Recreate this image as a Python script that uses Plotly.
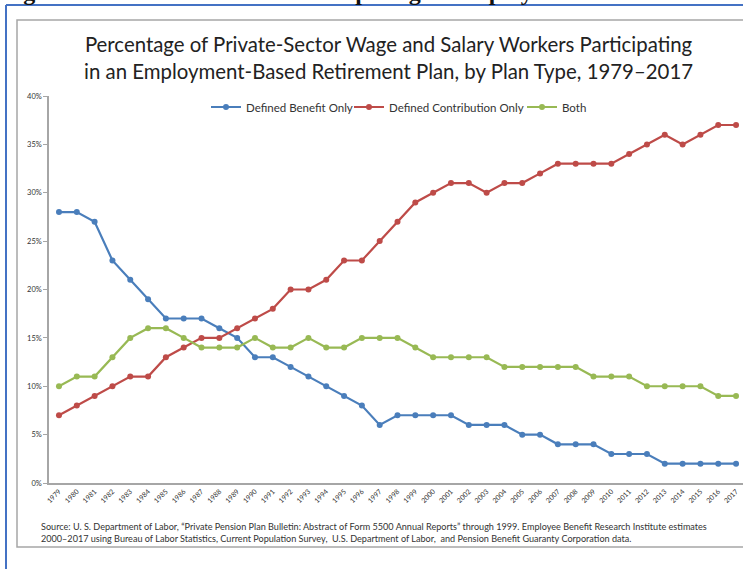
import plotly.graph_objects as go

years = list(range(1979, 2018))
db_only = [28, 28, 27, 23, 21, 19, 17, 17, 17, 16, 15, 13, 13, 12, 11, 10, 9, 8, 6,
           7, 7, 7, 7, 6, 6, 6, 5, 5, 4, 4, 4, 3, 3, 3, 2, 2, 2, 2, 2]
dc_only = [7, 8, 9, 10, 11, 11, 13, 14, 15, 15, 16, 17, 18, 20, 20, 21, 23, 23, 25,
           27, 29, 30, 31, 31, 30, 31, 31, 32, 33, 33, 33, 33, 34, 35, 36, 35, 36, 37, 37]
both = [10, 11, 11, 13, 15, 16, 16, 15, 14, 14, 14, 15, 14, 14, 15, 14, 14, 15, 15,
        15, 14, 13, 13, 13, 13, 12, 12, 12, 12, 12, 11, 11, 11, 10, 10, 10, 10, 9, 9]
y_ticks = [0, 5, 10, 15, 20, 25, 30, 35, 40]
y_tick_labels = [f"{v}%" for v in y_ticks]

series = [
    ("Defined Benefit Only", db_only, "#4A7EBB", "legend"),
    ("Defined Contribution Only", dc_only, "#BE4B48", "legend2"),
    ("Both", both, "#98B954", "legend3"),
]

fig = go.Figure()
for name, vals, col, lg in series:
    fig.add_trace(go.Scatter(
        x=years, y=vals, name=name, mode="lines+markers",
        line=dict(color=col, width=2.2),
        marker=dict(color=col, size=6, symbol="circle"),
        legend=lg,
    ))

W, H = 743, 569
L, R, T, B = 49, 0, 96, 86
PW, PH = W - L - R, H - T - B


def px(x):
    return (x - L) / PW


def py(y):
    return 1 - (y - T) / PH


def legend_at(xpix):
    return dict(orientation="h", x=px(xpix), xanchor="left",
                y=py(107), yanchor="middle",
                font=dict(size=11.5, color="#333"), bgcolor="rgba(0,0,0,0)",
                itemwidth=30)


fig.update_layout(
    width=W, height=H,
    margin=dict(l=L, r=R, t=T, b=B, autoexpand=False),
    paper_bgcolor="white", plot_bgcolor="white",
    font=dict(family="Lato, 'Open Sans', sans-serif", color="#333"),
    showlegend=True,
    legend=legend_at(206),
    legend2=legend_at(349),
    legend3=legend_at(522),
    xaxis=dict(
        range=[1978.44, 2017.39], tickmode="array", tickvals=years,
        ticktext=[str(y) for y in years], tickangle=-45,
        tickfont=dict(size=7, color="#333"),
        showline=True, linecolor="#A6A6A6", linewidth=1.5,
        showgrid=False, zeroline=False, ticks="", fixedrange=True,
    ),
    yaxis=dict(
        range=[0, 40], tickmode="array", tickvals=y_ticks, ticktext=y_tick_labels,
        tickfont=dict(size=7.5, color="#333"),
        showline=True, linecolor="#A6A6A6", linewidth=1.5,
        ticks="outside", ticklen=4, tickcolor="#A6A6A6",
        showgrid=False, zeroline=False, fixedrange=True,
    ),
    shapes=[
        # outer blue frame
        dict(type="line", xref="paper", yref="paper", x0=px(6), x1=px(W + 5),
             y0=py(5), y1=py(5), line=dict(color="#4472C4", width=2)),
        dict(type="line", xref="paper", yref="paper", x0=px(6), x1=px(6),
             y0=py(5), y1=py(H + 5), line=dict(color="#4472C4", width=2)),
        # inner gray chart box
        dict(type="rect", xref="paper", yref="paper",
             x0=px(17), x1=px(W + 3), y0=py(547), y1=py(20),
             line=dict(color="#A6A6A6", width=1.5), fillcolor="rgba(0,0,0,0)",
             layer="below"),
    ],
    annotations=[
        dict(text="Percentage of Private-Sector Wage and Salary Workers Participating<br>"
                  "in an Employment-Based Retirement Plan, by Plan Type, 1979\u20132017",
             xref="paper", yref="paper", x=px(388), xanchor="center",
             y=py(58), yanchor="middle", showarrow=False,
             font=dict(size=20.4, color="#222"), align="center"),
        dict(text="<b>Figure 1. Share of Workers Participating in Employment-Based Retirement Plans</b>",
             xref="paper", yref="paper", x=px(0), xanchor="left",
             y=py(7), yanchor="bottom", showarrow=False,
             font=dict(size=24, family="'Liberation Serif', serif", color="#111"), align="left"),
        dict(text="Source: U. S. Department of Labor, \u201cPrivate Pension Plan Bulletin: Abstract of Form 5500 Annual Reports\u201d through 1999. Employee Benefit Research Institute estimates<br>"
                  "2000\u20132017 using Bureau of Labor Statistics, Current Population Survey,  U.S. Department of Labor,  and Pension Benefit Guaranty Corporation data.",
             xref="paper", yref="paper", x=px(39), xanchor="left",
             y=py(532), yanchor="middle", showarrow=False,
             font=dict(size=9.1, color="#333"), align="left"),
    ],
)

fig.write_html(
    "out.html",
    config={"displayModeBar": False},
    post_script="document.body.style.margin='0';document.body.style.overflow='hidden';",
)
